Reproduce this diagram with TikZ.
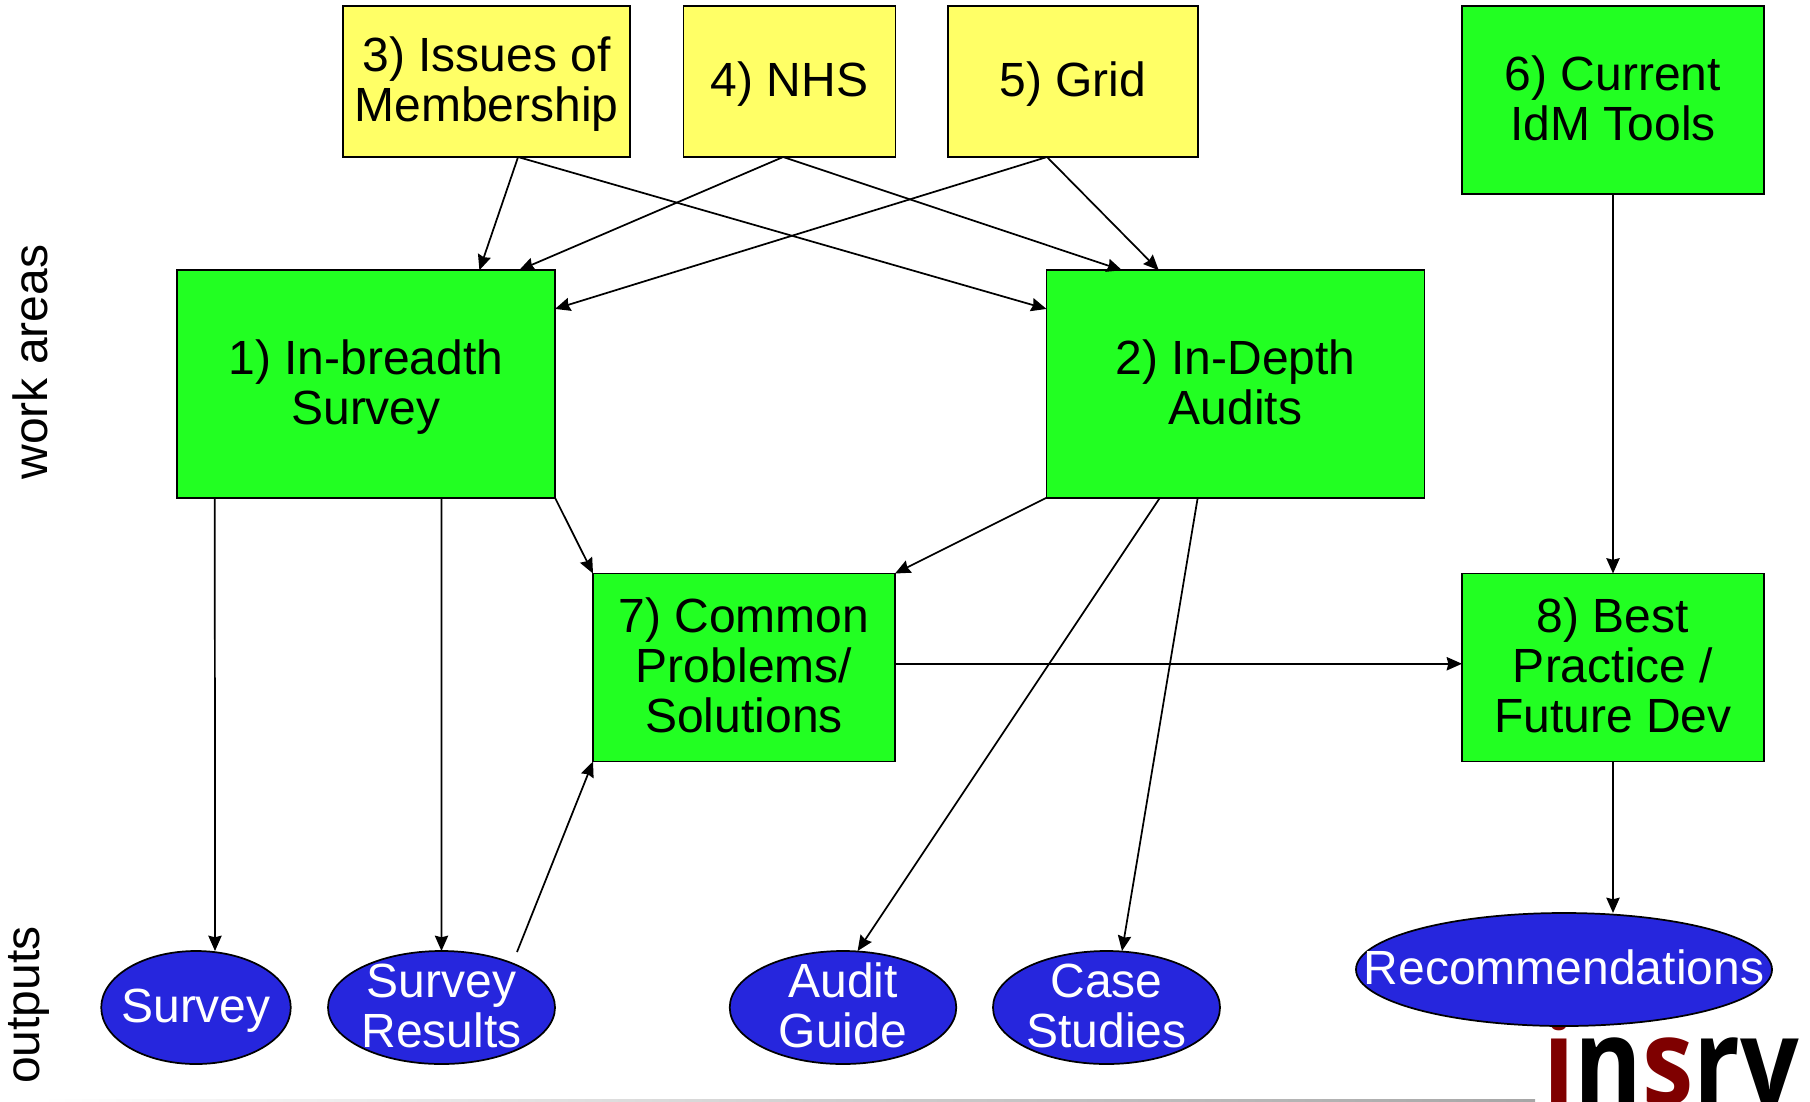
\documentclass[tikz,border=0pt]{standalone}
\usepackage{fontspec}
\setmainfont{Liberation Sans}
\newfontfamily\logofont{Open Sans}
\usetikzlibrary{arrows.meta,calc,shapes.geometric}
\definecolor{boxyellow}{HTML}{FFFF66}
\definecolor{boxgreen}{HTML}{22FF22}
\definecolor{ovalblue}{HTML}{2626DD}
\definecolor{logored}{HTML}{7F0000}
\tikzset{
  x=0.75pt,y=-0.75pt,
  lbl/.style={font=\fontsize{36}{37.5}\selectfont,align=center,inner sep=0pt,outer sep=0pt},
  strutted/.style={execute at begin node={\rule{0pt}{42.6pt}},execute at end node={\rule[-20pt]{0pt}{20pt}}},
  duo/.style={execute at begin node={\rule{0pt}{80.1pt}},execute at end node={\rule[-20pt]{0pt}{20pt}}},
  trio/.style={execute at begin node={\rule{0pt}{117.6pt}},execute at end node={\rule[-20pt]{0pt}{20pt}}},
  sbox/.style={lbl,draw=black,line width=1.3pt,text=black},
  ybox/.style={sbox,fill=boxyellow},
  gbox/.style={sbox,fill=boxgreen},
  oval/.style={lbl,ellipse,inner sep=-150pt,draw=black,line width=1.3pt,fill=ovalblue,text=white},
  dim/.style n args={2}{minimum width=#1*0.75pt,minimum height=#2*0.75pt},
  conn/.style={draw=black,line width=1.3pt,-{Stealth[length=11.5pt,width=10pt,inset=1.2pt]}},
}
\begin{document}
\begin{tikzpicture}
\useasboundingbox (0,0) rectangle (1810,1101);
% bottom rule and logo
\fill[left color=white,right color=gray!70] (40,1099.6) rectangle (1535,1101);
\begin{scope}
\clip (1500,1000) rectangle (1810,1101);
\node[anchor=base west,inner sep=0pt,font=\logofont\bfseries\fontsize{90}{90}\selectfont] (logo) at (1543,1104)
  {\scalebox{.86}[1]{\textcolor{logored}{i}n\textcolor{logored}{s}rv}};
\end{scope}
% work areas
\node[ybox,duo,dim={287}{151}] (n3) at (486.5,81.5) {3) Issues of\\Membership};
\node[ybox,strutted,dim={212}{151}] (n4) at (789.5,81.5) {4) NHS};
\node[ybox,strutted,dim={250}{151}] (n5) at (1073,81.5) {5) Grid};
\node[gbox,duo,dim={302}{188}] (n6) at (1613,100) {6) Current\\IdM Tools};
\node[gbox,duo,dim={378}{227.5}] (n1) at (366,384) {1) In-breadth\\Survey};
\node[gbox,duo,dim={378}{227.5}] (n2) at (1235.5,384) {2) In-Depth\\Audits};
\node[gbox,trio,dim={302}{188}] (n7) at (744,667.5) {7) Common\\Problems/\\Solutions};
\node[gbox,trio,dim={302}{188}] (n8) at (1613,667.5) {8) Best\\Practice /\\Future Dev};
% outputs
\node[oval,strutted,dim={189.5}{113}] (o1) at (196,1007.5) {Survey};
\node[oval,duo,dim={227}{113}] (o2) at (441.5,1007.5) {Survey\\Results};
\node[oval,duo,dim={226.5}{113}] (o3) at (843,1007.5) {Audit\\Guide};
\node[oval,duo,dim={227}{113}] (o4) at (1106.5,1007.5) {Case\\Studies};
\node[oval,strutted,dim={416}{113}] (o5) at (1564,969.5) {Recommendations};
% side labels
\node[lbl,rotate=90] (wa) at (30.5,362) {work areas};
\node[lbl,rotate=90] (op) at (28.5,1005) {outputs};
% connectors
\draw[conn] ($(n3.south west)!.61!(n3.south east)$) -- ($(n1.north west)!.80!(n1.north east)$);
\draw[conn] ($(n3.south west)!.61!(n3.south east)$) -- ($(n2.north west)!.17!(n2.south west)$);
\draw[conn] ($(n4.south west)!.47!(n4.south east)$) -- ($(n1.north west)!.905!(n1.north east)$);
\draw[conn] ($(n4.south west)!.47!(n4.south east)$) -- ($(n2.north west)!.20!(n2.north east)$);
\draw[conn] ($(n5.south west)!.396!(n5.south east)$) -- ($(n1.north east)!.17!(n1.south east)$);
\draw[conn] ($(n5.south west)!.396!(n5.south east)$) -- ($(n2.north west)!.297!(n2.north east)$);
\draw[conn] (n6.south) -- (n8.north);
\draw[conn] ($(n1.south west)!.10!(n1.south east)$) -- ($(o1.north)+(19,0)$);
\draw[conn] ($(n1.south west)!.70!(n1.south east)$) -- (o2.north);
\draw[conn] (n1.south east) -- (n7.north west);
\draw[conn] (n2.south west) -- (n7.north east);
\draw[conn] ($(n2.south west)!.30!(n2.south east)$) -- ($(o3.north)+(14.6,0)$);
\draw[conn] ($(n2.south west)!.40!(n2.south east)$) -- ($(o4.north)+(15.5,0)$);
\draw[conn] ($(o2.north)+(75.5,1)$) -- (n7.south west);
\draw[conn] ($(n7.north east)!.48!(n7.south east)$) -- ($(n8.north west)!.48!(n8.south west)$);
\draw[conn] (n8.south) -- (n8.south |- o5.north);
\end{tikzpicture}
\end{document}
